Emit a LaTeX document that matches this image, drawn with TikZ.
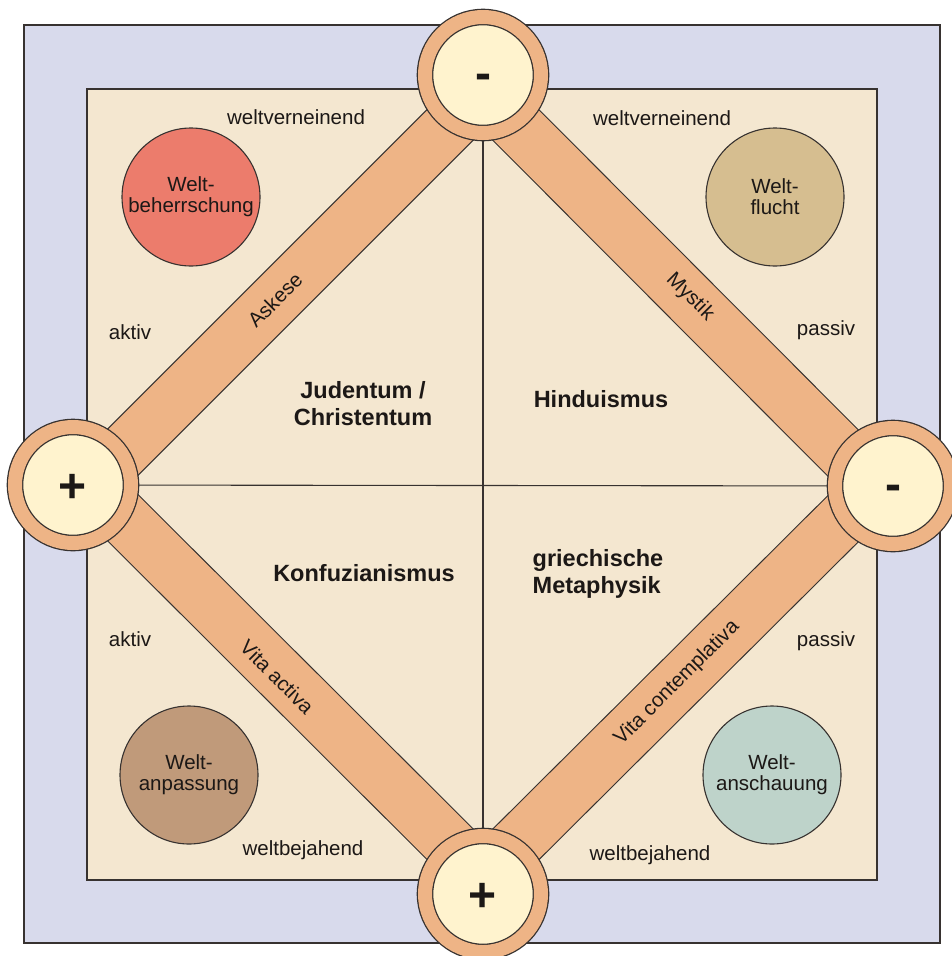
\documentclass[tikz,border=0pt]{standalone}
\usepackage{fontspec}
\setmainfont{Liberation Sans}
\definecolor{frameblue}{RGB}{216,218,236}
\definecolor{beige}{RGB}{244,231,208}
\definecolor{bandc}{RGB}{238,180,134}
\definecolor{pale}{RGB}{255,243,206}
\definecolor{linec}{RGB}{55,50,48}
\definecolor{textc}{RGB}{28,24,22}
\definecolor{redc}{RGB}{236,124,108}
\definecolor{tanc}{RGB}{214,190,144}
\definecolor{brownc}{RGB}{192,154,122}
\definecolor{tealc}{RGB}{190,211,202}
\begin{document}
\begin{tikzpicture}[x=1pt,y=-1pt,
  lab/.style={font=\fontsize{20.5}{21}\selectfont, text=textc, inner sep=0pt},
  big/.style={font=\fontsize{23.5}{27}\selectfont\bfseries, text=textc, inner sep=0pt},
  band/.style={draw=linec, line width=1.1pt, double=bandc, double distance=53pt},
  divider/.style={draw=linec, line width=1.1pt},
  pole/.style={circle, draw=linec, line width=1.3pt, double=bandc, double distance=14pt,
    fill=pale, minimum size=116pt, inner sep=0pt, text=textc,
    font=\fontsize{48}{48}\selectfont\bfseries, text depth=0pt},
  plus/.style={pole, text height=34pt},
  minus/.style={pole, text height=29pt},
  world/.style={circle, draw=linec, line width=1.1pt, minimum size=138pt, inner sep=0pt,
    align=center, font=\fontsize{20.5}{21}\selectfont, text=textc}]
\useasboundingbox (0,0) rectangle (952,956);
% frames
\draw[fill=frameblue, draw=linec, line width=1.2pt] (24,25) rectangle (940,943);
\draw[fill=beige, draw=linec, line width=1.2pt] (87,89) rectangle (877,880);
% pole positions
\coordinate (T) at (483,75);
\coordinate (L) at (73,485);
\coordinate (R) at (893,486);
\coordinate (B) at (483,894);
% dividing lines
\draw[divider] (T) -- (B);
\draw[divider] (L) -- (R);
% band end points (bands run slightly inside the pole centres)
\coordinate (askT) at (491.5,83.5);
\coordinate (askL) at (81.5,493.5);
\coordinate (myT) at (474.5,83.5);
\coordinate (myR) at (884.5,494.5);
\coordinate (vaL) at (81.5,476.5);
\coordinate (vaB) at (491.5,885.5);
\coordinate (vcB) at (474.5,885.5);
\coordinate (vcR) at (884.5,477.5);
\draw[band] (askL) -- (askT);
\draw[band] (myT) -- (myR);
\draw[band] (vaL) -- (vaB);
\draw[band] (vcB) -- (vcR);
% band labels
\node[lab, rotate=45] (askese) at (275,300) {Askese};
\node[lab, rotate=-45] (mystik) at (690,297) {Mystik};
\node[lab, rotate=-45] (vitaact) at (277,677) {Vita activa};
\node[lab, rotate=45] (vitacon) at (677,683) {Vita contemplativa};
% poles
\node[minus] (pT) at (T) {-};
\node[plus] (pL) at (L) {+};
\node[minus] (pR) at (R) {-};
\node[plus] (pB) at (B) {+};
% world circles
\node[world, fill=redc] (wb) at (191,197) {Welt-\\beherrschung};
\node[world, fill=tanc] (wf) at (775,197) {Welt-\\flucht};
\node[world, fill=brownc] (wa) at (189,775) {Welt-\\anpassung};
\node[world, fill=tealc] (ws) at (772,775) {Welt-\\anschauung};
% axis labels
\node[lab] (wv1) at (296,117) {weltverneinend};
\node[lab] (wv2) at (662,118) {weltverneinend};
\node[lab] (ak1) at (130,332) {aktiv};
\node[lab] (ak2) at (130,639) {aktiv};
\node[lab] (pa1) at (826,330) {passiv};
\node[lab] (pa2) at (826,641) {passiv};
\node[lab] (wj1) at (303,850) {weltbejahend};
\node[lab] (wj2) at (650,855) {weltbejahend};
% religions
\node[big, align=center] (jc) at (363,404) {Judentum /\\Christentum};
\node[big] (hi) at (601,399) {Hinduismus};
\node[big] (ko) at (364,573) {Konfuzianismus};
\node[big, align=left] (gm) at (598,574) {griechische\\Metaphysik};
\end{tikzpicture}
\end{document}
